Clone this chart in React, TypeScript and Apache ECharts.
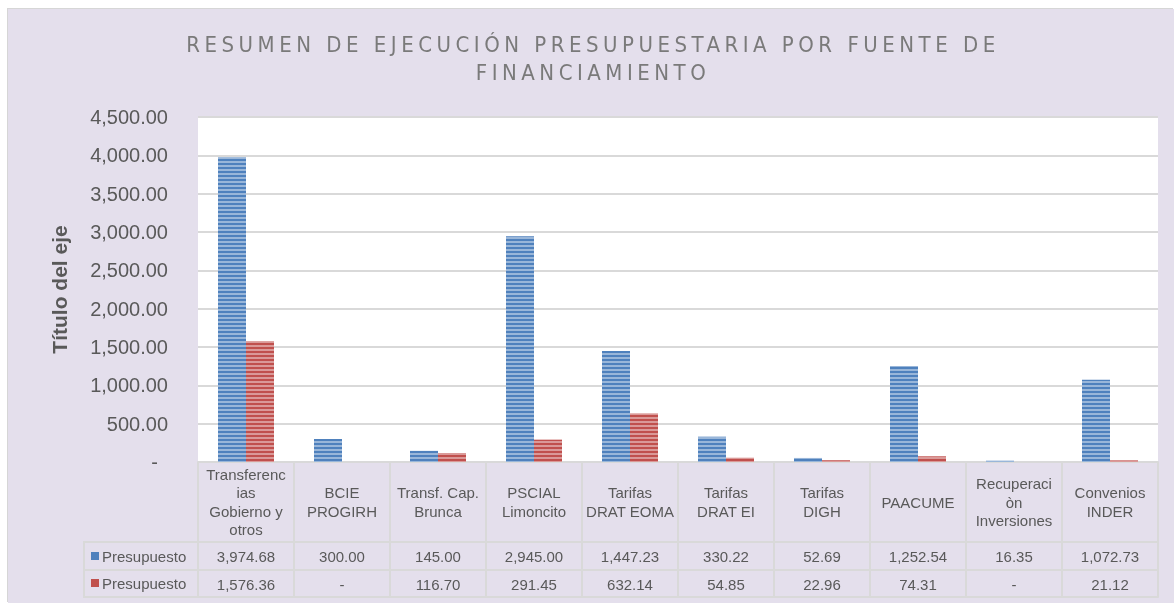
import React, { useEffect, useRef } from "react";
import * as echarts from "echarts";

const TITLE_LINE_1 = "RESUMEN DE EJECUCIÓN PRESUPUESTARIA POR FUENTE DE";
const TITLE_LINE_2 = "FINANCIAMIENTO";
const Y_AXIS_TITLE = "Título del eje";

const categories = [
  "Transferencias Gobierno y otros",
  "BCIE PROGIRH",
  "Transf. Cap. Brunca",
  "PSCIAL Limoncito",
  "Tarifas DRAT EOMA",
  "Tarifas DRAT EI",
  "Tarifas DIGH",
  "PAACUME",
  "Recuperaciòn Inversiones",
  "Convenios INDER",
];

const categoryLabels = [
  "Transferenc\nias\nGobierno y\notros",
  "BCIE\nPROGIRH",
  "Transf. Cap.\nBrunca",
  "PSCIAL\nLimoncito",
  "Tarifas\nDRAT EOMA",
  "Tarifas\nDRAT EI",
  "Tarifas\nDIGH",
  "PAACUME",
  "Recuperaci\nòn\nInversiones",
  "Convenios\nINDER",
];

const seriesNames = ["Presupuesto", "Presupuesto"];
const presupuestoA = [3974.68, 300.0, 145.0, 2945.0, 1447.23, 330.22, 52.69, 1252.54, 16.35, 1072.73];
const presupuestoB = [1576.36, 0, 116.7, 291.45, 632.14, 54.85, 22.96, 74.31, 0, 21.12];

const yMin = 0;
const yMax = 4500;
const yInterval = 500;

const BLUE = "#4F81BD";
const RED = "#C0504D";
const TEXT = "#595959";
const LINE = "#D9D9D9";
const FONT = "'Liberation Sans', Arial, sans-serif";

const fmt = (v: number) =>
  v === 0
    ? "-"
    : v.toLocaleString("en-US", { minimumFractionDigits: 2, maximumFractionDigits: 2 });

export default function App() {
  const ref = useRef<HTMLDivElement>(null);

  useEffect(() => {
    if (!ref.current) return;
    const chart = echarts.init(ref.current, undefined, { renderer: "svg" });

    const stripe = (color: string) => ({
      symbol: "rect",
      symbolSize: 1,
      dashArrayX: [1, 0],
      dashArrayY: [1.5, 1.5],
      color,
      rotation: 0,
    });

    const tableAxis = (offset: number, tickLen: number, values: number[] | null) => ({
      type: "category",
      data: categories,
      gridIndex: 0,
      position: "bottom",
      offset,
      axisLine: { show: true, lineStyle: { color: LINE, width: 2 } },
      axisTick: {
        show: tickLen > 0,
        length: tickLen,
        alignWithLabel: false,
        lineStyle: { color: LINE, width: 2 },
      },
      axisLabel: {
        show: values !== null,
        interval: 0,
        margin: 14,
        verticalAlign: "middle",
        fontSize: 15,
        color: TEXT,
        fontFamily: FONT,
        formatter: (_v: string, i: number) => (values ? fmt(values[i]) : ""),
      },
      splitLine: { show: false },
    });

    chart.setOption({
      animation: false,
      backgroundColor: "transparent",
      textStyle: { fontFamily: FONT },
      grid: {
        left: 190,
        right: 16,
        top: 108,
        bottom: 141,
        show: true,
        backgroundColor: "#ffffff",
        borderWidth: 0,
        containLabel: false,
      },
      graphic: [
        {
          type: "text",
          style: {
            x: 585,
            y: 49,
            text: TITLE_LINE_1 + "\n" + TITLE_LINE_2,
            align: "center",
            verticalAlign: "middle",
            fontSize: 22,
            lineHeight: 28,
            fill: "#7A7A7A",
            fontFamily: "'Liberation Sans Narrow', 'DejaVu Sans Condensed', 'Liberation Sans', sans-serif",
          },
        },
        {
          type: "rect",
          shape: { x: 76, y: 533, width: 114, height: 28 },
          style: { fill: "transparent", stroke: LINE, lineWidth: 2 },
        },
        {
          type: "rect",
          shape: { x: 76, y: 561, width: 114, height: 27 },
          style: { fill: "transparent", stroke: LINE, lineWidth: 2 },
        },
        {
          type: "rect",
          shape: { x: 83, y: 543, width: 8, height: 8 },
          style: { fill: BLUE },
        },
        {
          type: "text",
          style: { x: 94, y: 547, text: seriesNames[0], verticalAlign: "middle", fontSize: 15, fill: TEXT, fontFamily: FONT },
        },
        {
          type: "rect",
          shape: { x: 83, y: 570, width: 8, height: 8 },
          style: { fill: RED },
        },
        {
          type: "text",
          style: { x: 94, y: 574, text: seriesNames[1], verticalAlign: "middle", fontSize: 15, fill: TEXT, fontFamily: FONT },
        },
      ],
      xAxis: [
        {
          type: "category",
          data: categories,
          gridIndex: 0,
          position: "bottom",
          offset: 0,
          axisLine: { show: true, lineStyle: { color: LINE, width: 2 } },
          axisTick: { show: true, length: 80, alignWithLabel: false, lineStyle: { color: LINE, width: 2 } },
          axisLabel: {
            interval: 0,
            margin: 40,
            verticalAlign: "middle",
            align: "center",
            fontSize: 15,
            lineHeight: 18.5,
            color: TEXT,
            fontFamily: FONT,
            formatter: (_v: string, i: number) => categoryLabels[i],
          },
          splitLine: { show: false },
        },
        tableAxis(80, 28, presupuestoA),
        tableAxis(108, 27, presupuestoB),
        tableAxis(135, 0, null),
      ],
      yAxis: {
        type: "value",
        min: yMin,
        max: yMax,
        interval: yInterval,
        name: Y_AXIS_TITLE,
        nameLocation: "middle",
        nameGap: 128,
        nameRotate: 90,
        nameTextStyle: { fontSize: 21, fontWeight: "bold", color: TEXT, fontFamily: FONT },
        axisLine: { show: false },
        axisTick: { show: false },
        axisLabel: {
          margin: 30,
          fontSize: 20,
          color: TEXT,
          fontFamily: FONT,
          formatter: (v: number) => (v === 0 ? "{z|-}" : fmt(v)),
          rich: { z: { fontSize: 20, color: TEXT, padding: [0, 10, 0, 0], fontFamily: FONT } },
        },
        splitLine: { show: true, lineStyle: { color: LINE, width: 2 } },
      },
      series: [
        {
          name: seriesNames[0],
          type: "bar",
          xAxisIndex: 0,
          data: presupuestoA,
          barWidth: 28,
          barGap: "0%",
          itemStyle: { color: BLUE, decal: stripe("rgba(255,255,255,0.42)") },
        },
        {
          name: seriesNames[1],
          type: "bar",
          xAxisIndex: 0,
          data: presupuestoB,
          barWidth: 28,
          barGap: "0%",
          itemStyle: { color: RED, decal: stripe("rgba(255,255,255,0.42)") },
        },
      ],
    });

    const texts = ref.current.querySelectorAll("text");
    texts.forEach((t) => {
      const c = t.textContent || "";
      if (c.includes("RESUMEN") || c.includes("FINANCIAMIENTO")) {
        (t as SVGTextElement).style.letterSpacing = "4.5px";
      }
    });

    return () => chart.dispose();
  }, []);

  return (
    <div
      ref={ref}
      style={{
        position: "fixed",
        left: 8,
        top: 9,
        width: 1166,
        height: 594,
        background: "#E4DFEC",
        boxShadow: "-1px -1px 0 #D6D6D6",
      }}
    />
  );
}
